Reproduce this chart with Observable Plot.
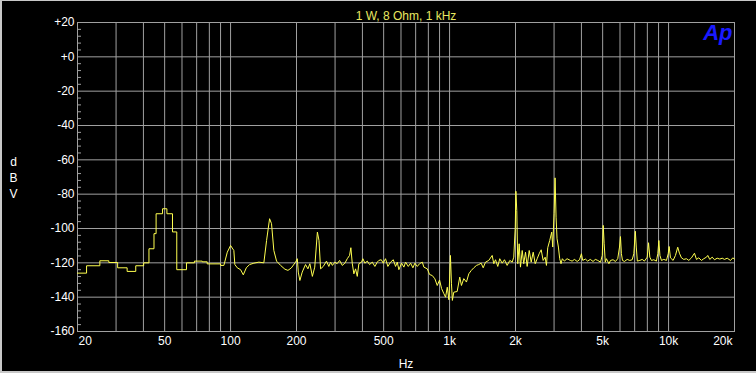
<!DOCTYPE html>
<html>
<head>
<meta charset="utf-8">
<script src="https://cdn.jsdelivr.net/npm/d3@7"></script>
<script src="https://cdn.jsdelivr.net/npm/@observablehq/plot@0.6"></script>
<style>
  html, body { margin: 0; padding: 0; background: #000; overflow: hidden; }
  #wrap { position: relative; width: 756px; height: 373px; }
  .bd { position: absolute; background: #c8c8c8; }
</style>
</head>
<body>
<div id="wrap">
  <div id="chart"></div>
  <div class="bd" style="left:0;top:0;width:756px;height:1px"></div>
  <div class="bd" style="left:0;top:0;width:2px;height:373px"></div>
  <div class="bd" style="left:0;top:371px;width:756px;height:2px"></div>
</div>
<script>
// ---- data ----
const freqHz = [
  20,22,22,25.3,25.3,27.8,27.8,30.5,30.5,33.7,33.7,36.9,36.9,40.1,40.1,42.4,42.4,44.7,44.7,45.7,45.7,48.9,48.9,51.2,51.2,54.3,54.3,56.8,56.8,62.9,62.9,68.4,68.4,74.2,74.2,78.2,78.2,90,90,93.2,
  96.6,100,103.5,104.6,107.3,111.1,114.3,118,122.1,127.8,134.7,141.9,146,150.7,153.8,157.6,162.2,169.2,177,182.8,189.3,198.1,201.7,203.8,207.2,212.4,219.9,225.5,230.2,236.3,242.3,249.1,253.4,257.6,265,274.1,281,286.2,
  291.7,299.2,306.5,314.7,323.6,332.6,341.1,349.4,354.2,359.4,365.6,372.2,378.9,385.3,396.5,401.9,410.5,421,431.3,443.6,455.9,467.6,475.5,487.6,498,510,522.8,537.8,553.3,566.8,577,586.8,603.7,618.5,629.7,647.8,663.7,680,694.4,712.1,729.5,750.5,763.2,791.1,810.5,833.7,856.8,878.5,900,919.4,942,959,976,993,1009,1020,1030,
  1045,1083,1113,1133,1161,1194,1224,1255,1290,1327,1359,1394,1424,1459,1510,1565,1592,1621,1660,1695,1738,1781,1832,1884,1932,1964,1995,2008,2027,2048,2079,2107,2146,2181,2222,2261,2310,2359,2409,2461,2512,2565,2620,2675,2732,2769,2807,2866,2927,2958,3000,3032,3064,3096,3140,3183,3228,3273,3343,3439,3560,
  3627,3717,3825,3920,4000,4055,4170,4270,4390,4520,4630,4750,4890,4980,5030,5080,5140,5200,5340,5430,5580,5720,5860,5970,6030,6090,6160,6290,6470,6650,6820,6940,7050,7120,7200,7390,7580,7760,7990,8100,8210,8350,8560,8800,8930,9030,9130,9280,9510,9780,9960,10060,10200,10490,10750,11010,11210,11450,11730,12070,12370,12720,13130,13410,13740,14130,14480,14900,15100,15420,15820,16210,16670,17140,17580,18000,18520,19180,19650,20000
];
const levelDbV = [
  -126,-126,-121.7,-121.7,-118.8,-118.8,-119.8,-119.8,-122.9,-122.9,-125,-125,-121.7,-121.7,-120,-120,-111.8,-111.8,-103,-103,-91.4,-91.4,-88.5,-88.5,-91.4,-91.4,-102,-102,-124,-124,-120,-120,-119,-119,-119.4,-119.4,-120.6,-120.6,-121.5,-121.5,
  -113.8,-109.9,-112.8,-121,-122.9,-124,-127,-122.9,-121,-120.2,-119.6,-120,-107,-94.3,-97.2,-112.8,-119,-121.5,-123.7,-124.4,-123,-119.6,-117.6,-125.4,-130.3,-125.4,-121,-123.5,-120.5,-127.9,-122.5,-102.1,-107,-123.5,-122.1,-119,-122.1,-119.6,
  -121.5,-119.6,-120.5,-118.6,-121.5,-120.2,-117.6,-115.7,-111.2,-120.2,-126.4,-123.5,-127.9,-120.5,-119.6,-117.6,-120.2,-119,-121,-119.6,-122.1,-119.6,-118.6,-118.2,-120.2,-117.6,-122.1,-119.6,-118.2,-122.1,-119.6,-124,-120.2,-122.5,-119.6,-122.1,-120.2,-122.9,-120.2,-122.1,-120.5,-119.6,-122.5,-123.5,-126.8,-127.4,-129.3,-133.2,-130,-135,-138,-140,-134.2,-141.5,-115.7,-132.2,-141.9,
  -137.1,-136.7,-128.3,-133.2,-129.2,-131.2,-126.4,-124.5,-122.9,-121.5,-121,-120.2,-122.9,-119.6,-118.6,-115.7,-120.5,-118.2,-122.1,-117.6,-120.2,-118.2,-121.5,-118.6,-119.6,-116.7,-99.2,-78.3,-89.5,-120.5,-108.9,-122.5,-112.8,-120.5,-113.8,-122.1,-112.8,-119.6,-113.8,-120.5,-117.6,-114.7,-112.4,-118.6,-116.7,-121.5,-111.2,-107,-102.1,-110.8,-91.4,-70.5,-93.4,-106,-110.8,-117.6,-120.5,-117.6,-119,-117.6,-118.6,
  -119,-118,-119.2,-118.2,-114.7,-118.6,-117.8,-119,-118,-119.2,-118,-118.6,-119.6,-115.7,-98.2,-108.9,-119.6,-117.6,-120.5,-118.6,-118.2,-119.2,-117.6,-110.8,-104.7,-114.7,-118.6,-119.2,-118,-118.6,-118.2,-114.7,-101.6,-110.8,-119,-118.6,-118,-119,-116.7,-108.3,-116.7,-118.6,-118.2,-119,-114.7,-107,-115.7,-118.6,-118,-118.6,-114.7,-110.5,-117.1,-118.6,-115.7,-110.9,-114.4,-117.1,-118,-117.6,-118.6,-117.1,-114.4,-118,-117.1,-118.6,-117.6,-116.7,-115.7,-118,-116.7,-118.2,-117.3,-117.8,-117.3,-118,-117.3,-118.6,-117.1,-117.8
];
const xGrid = [20,30,40,50,60,70,80,90,100,200,300,400,500,600,700,800,900,1000,2000,3000,4000,5000,6000,7000,8000,9000,10000,20000];
const xTicks = [20,50,100,200,500,1000,2000,5000,10000,20000];
const xTickLabels = ["20","50","100","200","500","1k","2k","5k","10k","20k"];
const yTicks = [20,0,-20,-40,-60,-80,-100,-120,-140,-160];
const yTickLabels = ["+20","+0","-20","-40","-60","-80","-100","-120","-140","-160"];
const yMinor = d3.range(-156, 20, 4).filter(v => v % 20 !== 0);
const titleText = "1 W, 8 Ohm, 1 kHz";
const xLabel = "Hz";
const yLabel = "d\nB\nV";
const logoText = "Ap";

const trace = freqHz.map((f, i) => ({f, db: levelDbV[i]}));
const midIdx = xTicks.map((_, i) => i).filter(i => i > 0 && i < xTicks.length - 1);

const GRID = "#a0a0a0";
const chart = Plot.plot({
  width: 756,
  height: 373,
  marginLeft: 77,
  marginRight: 22,
  marginTop: 22,
  marginBottom: 42,
  style: {background: "#000", color: "#fff", fontFamily: "'Liberation Sans', Arial, sans-serif", fontSize: "12px"},
  x: {type: "log", domain: [20, 20000], axis: null},
  y: {domain: [-160, 20], axis: null},
  marks: [
    Plot.ruleX(xGrid, {x: d => d, stroke: GRID, strokeWidth: 1}),
    Plot.ruleY(yTicks, {y: d => d, stroke: GRID, strokeWidth: 1}),
    Plot.tickY(yMinor, {y: d => d, stroke: GRID, insetRight: 653}),
    Plot.frame({stroke: GRID}),
    Plot.line(trace, {x: "f", y: "db", stroke: "#ffff50", strokeWidth: 1}),
    // y tick labels
    Plot.text(yTicks, {y: d => d, text: (d, i) => yTickLabels[i], frameAnchor: "left", textAnchor: "end", dx: -3, fill: "#fff"}),
    // x tick labels
    Plot.text(midIdx, {x: i => xTicks[i], text: i => xTickLabels[i], frameAnchor: "bottom", lineAnchor: "top", dy: 5, fill: "#fff"}),
    Plot.text([0], {x: i => xTicks[i], text: i => xTickLabels[i], frameAnchor: "bottom", lineAnchor: "top", textAnchor: "start", dx: 1, dy: 5, fill: "#fff"}),
    Plot.text([xTicks.length - 1], {x: i => xTicks[i], text: i => xTickLabels[i], frameAnchor: "bottom", lineAnchor: "top", textAnchor: "end", dx: -2, dy: 5, fill: "#fff"}),
    // title, axis labels, logo
    Plot.text([titleText], {text: d => d, frameAnchor: "top", lineAnchor: "bottom", dy: -3, fill: "#e8e860"}),
    Plot.text([xLabel], {text: d => d, frameAnchor: "bottom", lineAnchor: "top", dy: 28, fill: "#fff"}),
    Plot.text([yLabel], {text: d => d, frameAnchor: "left", textAnchor: "middle", lineAnchor: "middle", lineHeight: 1.35, dx: -64, fill: "#fff"}),
    Plot.text([logoText], {text: d => d, frameAnchor: "top-right", textAnchor: "end", lineAnchor: "top", dx: -2, dy: 2, fill: "#1a1aff", fontSize: 22, fontWeight: "bold", fontStyle: "italic"})
  ]
});
document.getElementById("chart").appendChild(chart);
</script>
</body>
</html>
